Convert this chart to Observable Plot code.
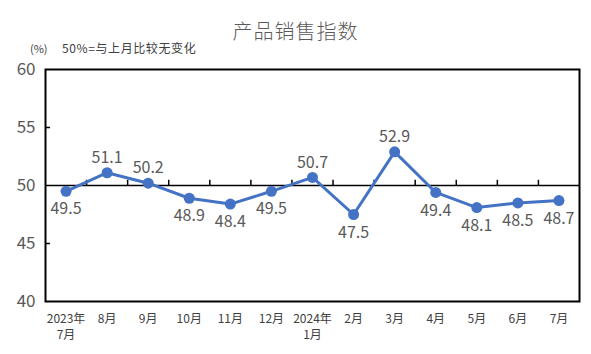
<!DOCTYPE html>
<html><head><meta charset="utf-8">
<script src="https://cdn.jsdelivr.net/npm/d3@7"></script>
<script src="https://cdn.jsdelivr.net/npm/@observablehq/plot@0.6"></script>
<style>
body{margin:0;background:#fff;font-family:"Noto Sans CJK SC","Noto Sans",sans-serif;}
#wrap{position:relative;width:591px;height:354px;}
#title{position:absolute;left:0;width:591px;top:16px;text-align:center;font-size:20px;color:#595959;letter-spacing:1px;font-weight:300;}
#sub1{position:absolute;left:30px;top:40px;font-size:11px;color:#404040;}
#sub2{position:absolute;left:62px;top:39px;font-size:12px;color:#404040;letter-spacing:0.6px;}
</style></head>
<body><div id="wrap"><div id="title">产品销售指数</div><div id="sub1">(%)</div><div id="sub2">50%=与上月比较无变化</div></div>
<script>
const months = ["2023年\n7月","8月","9月","10月","11月","12月","2024年\n1月","2月","3月","4月","5月","6月","7月"];
const values = [49.5,51.1,50.2,48.9,48.4,49.5,50.7,47.5,52.9,49.4,48.1,48.5,48.7];
const labelSide = ["below","above","above","below","below","below","above","below","above","below","below","below","below"];
const yTicks = [40,45,50,55,60];

const data = months.map((m,i)=>({i, m, v: values[i], side: labelSide[i]}));
const bounds = d3.range(0.5, months.length - 1, 1);

const chart = Plot.plot({
  width: 591, height: 354,
  marginLeft: 45, marginRight: 12, marginTop: 69, marginBottom: 53,
  style: {fontFamily: '"Noto Sans CJK SC","Noto Sans",sans-serif', background: "transparent"},
  x: {domain: [-0.5, months.length - 0.5]},
  y: {domain: [40, 60]},
  marks: [
    Plot.axisY({ticks: yTicks, tickSize: 0, tickPadding: 10, fontSize: 17, color: "#595959", label: null}),
    Plot.axisY({ticks: [45,55], tickSize: -5, tickFormat: () => "", stroke: "#000", strokeWidth: 1.5, label: null}),
    Plot.axisX({ticks: d3.range(months.length), tickFormat: i => months[i], tickSize: 0, tickPadding: 10, fontSize: 12, color: "#404040", label: null, lineHeight: 1.35}),
    Plot.ruleY([50], {stroke: "#000", strokeWidth: 1.6}),
    Plot.ruleX(bounds, {x: d => d, y1: 50, y2: 50.45, stroke: "#000", strokeWidth: 1.5}),
    Plot.frame({stroke: "#000", strokeWidth: 2}),
    Plot.line(data, {x: "i", y: "v", stroke: "#4472C4", strokeWidth: 3}),
    Plot.dot(data, {x: "i", y: "v", r: 5.5, fill: "#4472C4"}),
    Plot.text(data.filter(d=>d.side==="above"), {x: "i", y: "v", text: d => d.v.toFixed(1), dy: -15, fontSize: 16, fill: "#595959"}),
    Plot.text(data.filter(d=>d.side==="below"), {x: "i", y: "v", text: d => d.v.toFixed(1), dy: 18, fontSize: 16, fill: "#595959"})
  ]
});
document.getElementById("wrap").prepend(chart);
chart.style.position = "absolute"; chart.style.left = "0"; chart.style.top = "0";
</script></body></html>
